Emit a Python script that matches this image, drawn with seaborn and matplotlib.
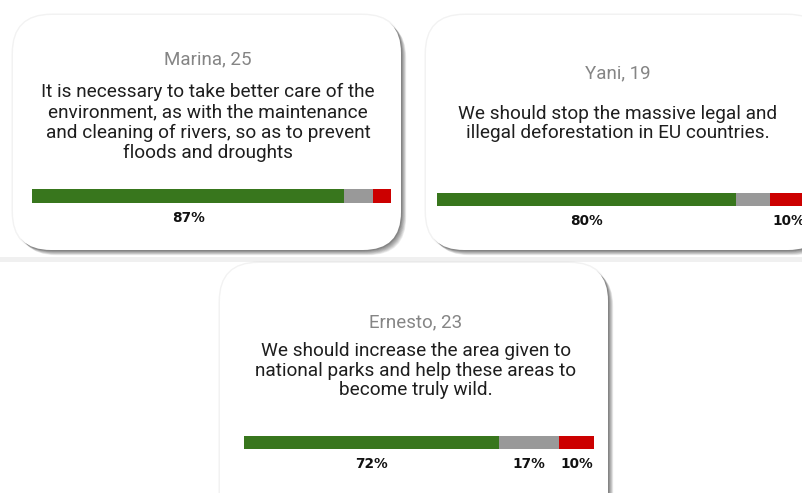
import matplotlib
matplotlib.use("Agg")
import matplotlib.pyplot as plt
from matplotlib.patches import FancyBboxPatch
import pandas as pd
import seaborn as sns

# ----- Data -----

names = ["Marina, 25", "Yani, 19", "Ernesto, 23"]
quotes = [
    ["It is necessary to take better care of the", "environment, as with the maintenance",
     "and cleaning of rivers, so as to prevent", "floods and droughts"],
    ["We should stop the massive legal and", "illegal deforestation in EU countries."],
    ["We should increase the area given to", "national parks and help these areas to",
     "become truly wild."],
]
agree = [87, 80, 72]
neutral = [8, 9, 17]
disagree = [5, 10, 10]

# ----- Style -----

sns.set_theme(style="white")
plt.rcParams["font.family"] = ["Roboto", "DejaVu Sans"]

GREEN, GREY, RED = "#38761d", "#999999", "#cc0000"
W, H = 803, 493

# card boxes (px): left, top, width, height ; bar boxes: left, top, width, height
cards = [(13, 15, 388, 235), (426, 15, 400, 235), (220, 263, 388, 290)]
bars = [(32, 189, 359, 14), (437, 193, 370, 13), (244, 436, 350, 13)]
centre_x = [208, 618, 416]
name_base = [64, 78, 327]
quote_base = [97, 119, 356]
line_gap = [20.5, 19.5, 19.5]

fig = plt.figure(figsize=(W / 100, H / 100), dpi=100)
bg = fig.add_axes([0, 0, 1, 1], zorder=0)
bg.set_xlim(0, W); bg.set_ylim(H, 0); bg.axis("off")

# faint band left by the screenshot between the two rows
bg.axhspan(257, 262, color="#f0f0f0", lw=0, zorder=0)

# -- Cards with soft shadow --

for (x, y, w, h) in cards:
    halo = FancyBboxPatch((x - 1.5, y - 1.5), w + 3, h + 3,
                          boxstyle="round,pad=0,rounding_size=40",
                          facecolor="#000000", edgecolor="none", alpha=0.05, zorder=1)
    bg.add_patch(halo)
    for k in range(8):
        off = 1 + k * 0.6
        sh = FancyBboxPatch((x + off, y + off), w, h,
                            boxstyle="round,pad=0,rounding_size=38",
                            facecolor="#000000", edgecolor="none", alpha=0.07, zorder=1)
        bg.add_patch(sh)
    card = FancyBboxPatch((x, y), w, h, boxstyle="round,pad=0,rounding_size=38",
                          facecolor="white", edgecolor="none", zorder=2)
    bg.add_patch(card)

for i in range(3):
    bg.text(centre_x[i], name_base[i], names[i], ha="center", va="baseline",
            fontsize=13.5, color="#858585", zorder=3)
    for j, line in enumerate(quotes[i]):
        bg.text(centre_x[i], quote_base[i] + j * line_gap[i], line, ha="center",
                va="baseline", fontsize=13.7, color="#1e1e1e", zorder=3)

# -- Stacked bars --

for i, (x, y, w, h) in enumerate(bars):
    ax = fig.add_axes([x / W, 1 - (y + h) / H, w / W, h / H], zorder=2)
    segs = pd.DataFrame({
        "part": ["agree", "neutral", "disagree"],
        "value": [agree[i], neutral[i], disagree[i]],
        "color": [GREEN, GREY, RED],
    })
    segs["right"] = segs["value"].cumsum()
    segs["left"] = segs["right"] - segs["value"]
    total = segs["value"].sum()

    # draw cumulative bars from the longest one down
    for _, row in segs.iloc[::-1].iterrows():
        sns.barplot(x=[row["right"]], y=["r"], orient="h", color=row["color"],
                    width=1, linewidth=0, saturation=1, ax=ax)

    for _, row in segs.iterrows():
        if row["value"] >= 10:
            ax.annotate(f"{row['value']}%", xy=((row["left"] + row["right"]) / 2, 0),
                        xycoords=("data", "axes fraction"), xytext=(0, -11),
                        textcoords="offset points", ha="center", va="center",
                        fontsize=9.8, fontweight="bold", family="DejaVu Sans",
                        color="#111111", annotation_clip=False)

    ax.set_xlim(0, total)
    ax.set_ylim(0.5, -0.5)
    ax.axis("off")

fig.savefig("out.png", dpi=100)
